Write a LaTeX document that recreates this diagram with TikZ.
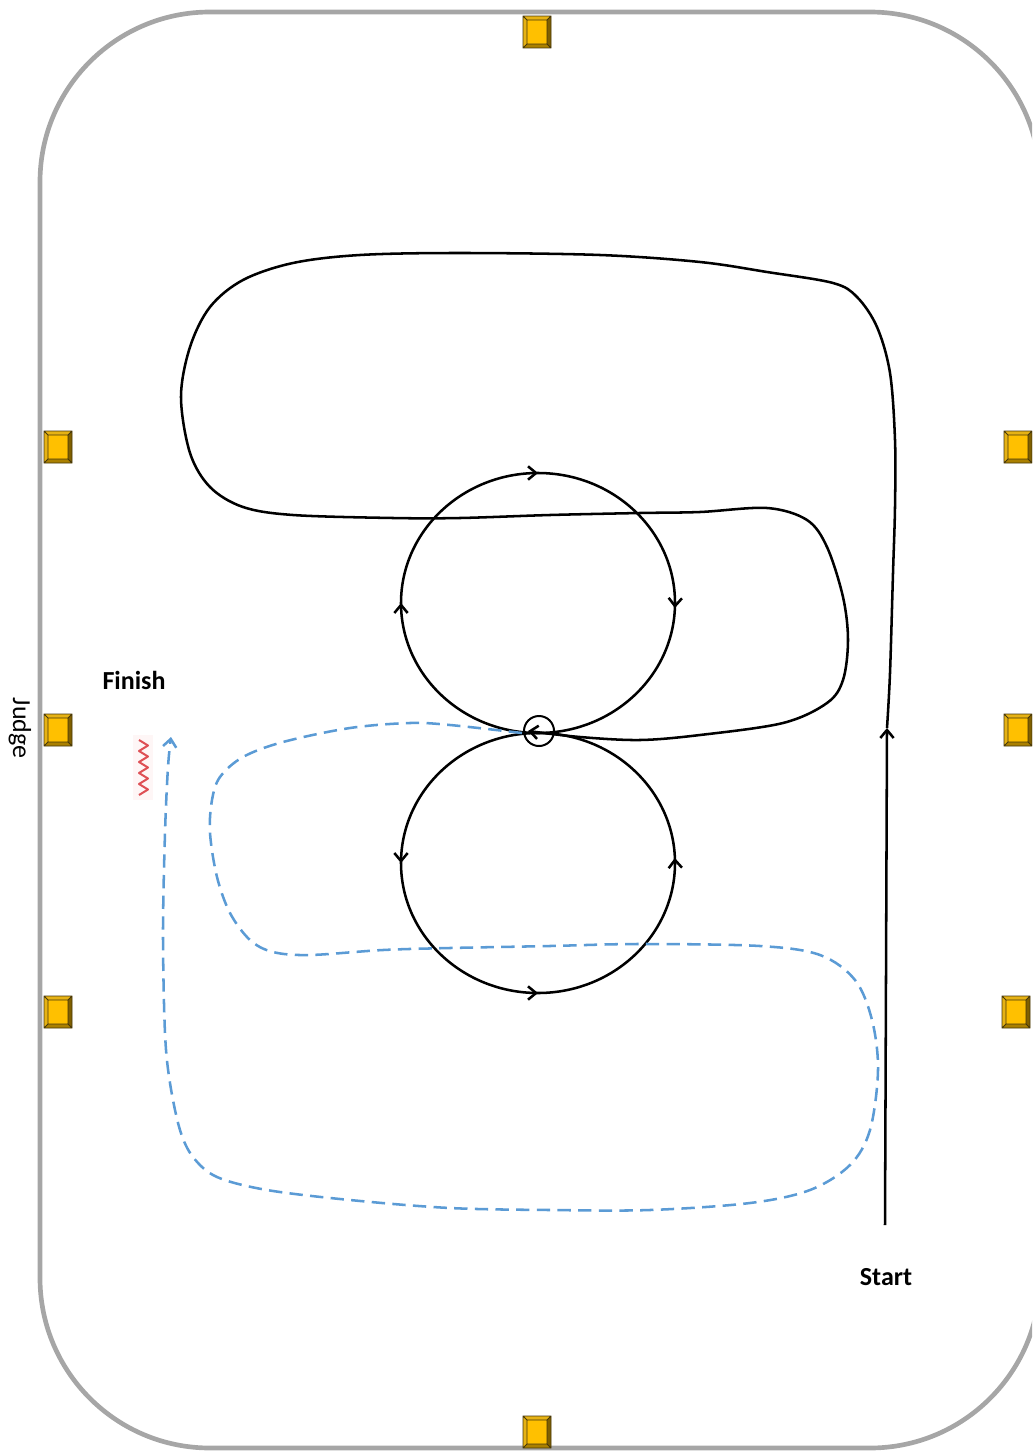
\documentclass[tikz,border=0pt]{standalone}
\usepackage{fontspec}
\setmainfont{Carlito}
\usetikzlibrary{arrows.meta,decorations.markings}
\definecolor{arena}{RGB}{166,166,166}
\definecolor{cone}{RGB}{255,192,0}
\definecolor{coneLight}{RGB}{230,178,20}
\definecolor{coneDark}{RGB}{128,96,0}
\definecolor{coneMid}{RGB}{170,128,0}
\definecolor{coneLine}{RGB}{70,55,10}
\definecolor{dashblue}{RGB}{91,155,213}
\definecolor{zig}{RGB}{222,80,85}
\definecolor{zigbg}{RGB}{254,246,246}
\begin{document}
\begin{tikzpicture}[x=0.75pt,y=-0.75pt,
  >={Straight Barb[length=6pt,width=10pt]},
  track/.style={line width=1.9pt,black},
  ride/.style={line width=1.9pt,dashblue,dash pattern=on 10pt off 5.5pt,
     -{Straight Barb[length=6pt,width=10pt]}},
  label/.style={font=\fontsize{19.5}{22}\selectfont,inner sep=0pt},
  circmarks/.style={postaction={decorate},decoration={markings,
     mark=at position 0.006 with {\arrow{>}},
     mark=at position 0.5 with {\arrow{>}},
     mark=at position 0.75 with {\arrow{>}}}},
  cone/.pic={
    \fill[coneLight] (-14,-16) rectangle (14,16);
    \fill[coneDark] (14,-16) -- (14,16) -- (10,12) -- (10,-12) -- cycle;
    \fill[coneMid] (-14,16) -- (14,16) -- (10,12) -- (-10,12) -- cycle;
    \fill[cone] (-10,-12) rectangle (10,12);
    \draw[coneLine,line width=0.6pt] (-14,-16) rectangle (14,16)
      (-10,-12) rectangle (10,12)
      (-14,-16) -- (-10,-12) (14,-16) -- (10,-12)
      (14,16) -- (10,12) (-14,16) -- (-10,12);
  }]
\useasboundingbox (0,0) rectangle (1032,1452);
\clip (0,0) rectangle (1032,1452);

% arena
\draw[arena,line width=3.5pt,rounded corners=127.5pt] (40,12) rectangle (1040,1448);

% markers
\pic at (537,32) {cone};
\pic at (537,1432) {cone};
\pic at (58,447) {cone};
\pic at (58,730) {cone};
\pic at (58,1012) {cone};
\pic at (1018,447) {cone};
\pic at (1018,730) {cone};
\pic at (1016,1012) {cone};

% circles
\draw[track,circmarks] (675,603) arc[start angle=0,end angle=-360,x radius=102.75pt,y radius=97.5pt];
\draw[track,circmarks] (675,863) arc[start angle=0,end angle=360,x radius=102.75pt,y radius=97.5pt];

% hub
\node[draw,circle,line width=1.5pt,minimum size=22.5pt,inner sep=0pt] (hub) at (539,731) {};

% start line
\coordinate (s0) at (885,1225);
\coordinate (s1) at (887,728);
\draw[track,->] (s0) -- (s1);

% main black track
\draw[track,->] plot[smooth,tension=0.55] coordinates {(s1) (890,673) (893,573) (895,507)
  (895,440) (890,373) (877,327) (857,297) (833,283) (767,272) (700,262) (600,255)
  (460,253) (360,255) (293,263) (243,280) (210,307) (190,347) (181,397) (190,453)
  (210,487) (243,507) (293,515) (393,518) (460,518) (550,515) (640,513) (700,512)
  (767,508) (807,520) (827,547) (843,597) (848,640) (843,680) (827,703) (783,723)
  (700,735) (640,740) (580,737) (528,731)};

% blue dashed finish route
\coordinate (f1) at (171,737);
\draw[ride] plot[smooth,tension=0.55] coordinates {(522,733) (450,725) (410,723)
  (350,728) (283,742) (243,757) (220,777) (212,800) (210,833) (217,877) (230,913)
  (250,940) (273,952) (310,955) (383,950) (450,948) (550,946) (640,944) (760,946)
  (820,955) (855,980) (872,1020) (878,1070) (870,1130) (850,1165) (810,1190)
  (750,1203) (650,1210) (550,1210) (450,1208) (350,1200) (267,1190) (217,1177)
  (193,1157) (180,1130) (170,1083) (165,1033) (163,933) (165,833) (168,767) (f1)};

% zigzag
\fill[zigbg] (133,735) rectangle (153,800);
\draw[zig,line width=1.5pt,line join=round] (139,740) -- (148,745.5) -- (139,751) -- (148,756.5)
  -- (139,762) -- (148,767.5) -- (139,773) -- (148,778.5) -- (139,784) -- (148,789.5) -- (139,795);

% labels
\node[label,font=\bfseries\fontsize{19.5}{22}\selectfont] (finish) at (134,680) {Finish};
\node[label,font=\bfseries\fontsize{19.5}{22}\selectfont] (start) at (886,1277) {Start};
\node[label,rotate=-90] (judge) at (20,728) {Judge};
\end{tikzpicture}
\end{document}
